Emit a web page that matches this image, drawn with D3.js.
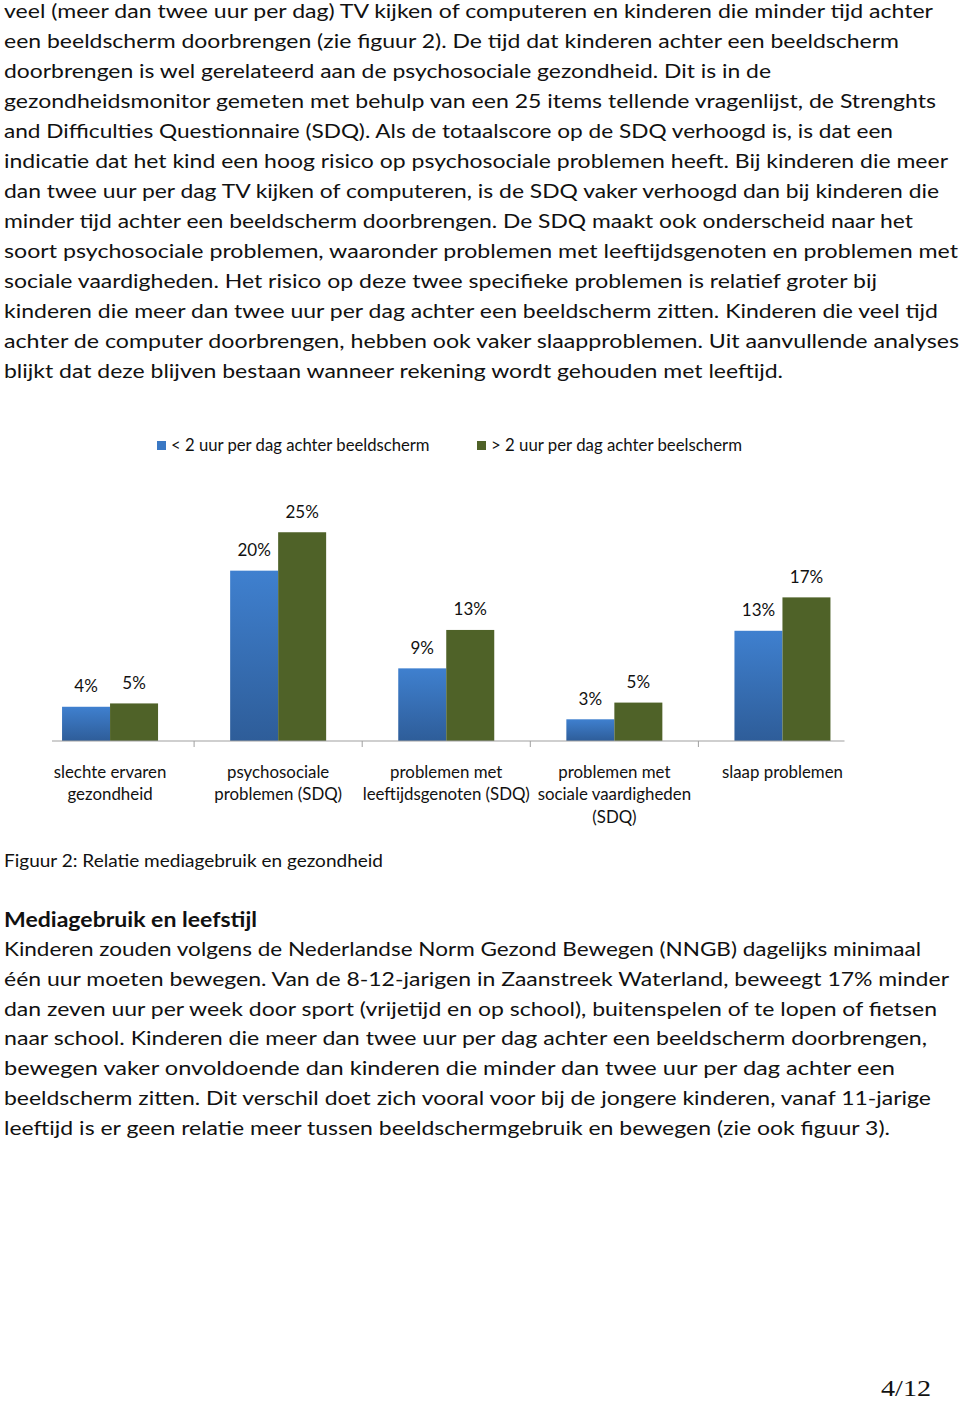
<!DOCTYPE html>
<html>
<head>
<meta charset="utf-8">
<script src="https://cdn.jsdelivr.net/npm/d3@7"></script>
<style>
  html, body { margin: 0; padding: 0; background: #fff; }
  svg { display: block; }
</style>
</head>
<body>
<div id="page"></div>
<script>
// ---------- DATA ----------
const categories = [
  ["slechte ervaren", "gezondheid"],
  ["psychosociale", "problemen (SDQ)"],
  ["problemen met", "leeftijdsgenoten (SDQ)"],
  ["problemen met", "sociale vaardigheden", "(SDQ)"],
  ["slaap problemen"]
];
const seriesNames = ["< 2 uur per dag achter beeldscherm", "> 2 uur per dag achter beelscherm"];
const lessThan2 = [4.1, 20.4, 8.7, 2.6, 13.2];
const moreThan2 = [4.5, 25.0, 13.3, 4.6, 17.2];
const lessLabels = ["4%", "20%", "9%", "3%", "13%"];
const moreLabels = ["5%", "25%", "13%", "5%", "17%"];
const seriesColors = ["#3a78c4", "#4f6228"];

const paragraph1 = [
  "veel (meer dan twee uur per dag) TV kijken of computeren en kinderen die minder tijd achter",
  "een beeldscherm doorbrengen (zie figuur 2). De tijd dat kinderen achter een beeldscherm",
  "doorbrengen is wel gerelateerd aan de psychosociale gezondheid. Dit is in de",
  "gezondheidsmonitor gemeten met behulp van een 25 items tellende vragenlijst, de Strenghts",
  "and Difficulties Questionnaire (SDQ). Als de totaalscore op de SDQ verhoogd is, is dat een",
  "indicatie dat het kind een hoog risico op psychosociale problemen heeft. Bij kinderen die meer",
  "dan twee uur per dag TV kijken of computeren, is de SDQ vaker verhoogd dan bij kinderen die",
  "minder tijd achter een beeldscherm doorbrengen. De SDQ maakt ook onderscheid naar het",
  "soort psychosociale problemen, waaronder problemen met leeftijdsgenoten en problemen met",
  "sociale vaardigheden. Het risico op deze twee specifieke problemen is relatief groter bij",
  "kinderen die meer dan twee uur per dag achter een beeldscherm zitten. Kinderen die veel tijd",
  "achter de computer doorbrengen, hebben ook vaker slaapproblemen. Uit aanvullende analyses",
  "blijkt dat deze blijven bestaan wanneer rekening wordt gehouden met leeftijd."
];
const caption = "Figuur 2: Relatie mediagebruik en gezondheid";
const heading = "Mediagebruik en leefstijl";
const paragraph2 = [
  "Kinderen zouden volgens de Nederlandse Norm Gezond Bewegen (NNGB) dagelijks minimaal",
  "één uur moeten bewegen. Van de 8-12-jarigen in Zaanstreek Waterland, beweegt 17% minder",
  "dan zeven uur per week door sport (vrijetijd en op school), buitenspelen of te lopen of fietsen",
  "naar school. Kinderen die meer dan twee uur per dag achter een beeldscherm doorbrengen,",
  "bewegen vaker onvoldoende dan kinderen die minder dan twee uur per dag achter een",
  "beeldscherm zitten. Dit verschil doet zich vooral voor bij de jongere kinderen, vanaf 11-jarige",
  "leeftijd is er geen relatie meer tussen beeldschermgebruik en bewegen (zie ook figuur 3)."
];
const pageNumber = "4/12";

// ---------- LAYOUT ----------
const W = 960, H = 1405;
const textX = 4;
const p1Ends = [933, 899, 771, 936, 893, 948, 939, 913, 958, 877, 938, 959, 783];
const p2Ends = [921, 949, 937, 927, 895, 931, 890];

const svg = d3.select("#page").append("svg")
  .attr("width", W).attr("height", H)
  .attr("viewBox", `0 0 ${W} ${H}`);
svg.append("rect").attr("width", W).attr("height", H).attr("fill", "#fff");

const bodyFont = "Lato, 'Open Sans', sans-serif";

function drawLines(lines, ends, y0, dy) {
  svg.append("g").selectAll("text").data(lines).join("text")
    .attr("x", textX)
    .attr("y", (d, i) => y0 + i * dy)
    .attr("font-family", bodyFont)
    .attr("font-size", 19.5)
    .attr("fill", "#111")
    .attr("textLength", (d, i) => ends[i] - textX)
    .attr("lengthAdjust", "spacingAndGlyphs")
    .text(d => d);
}
drawLines(paragraph1, p1Ends, 18, 30);

svg.append("text")
  .attr("x", textX).attr("y", 867)
  .attr("font-family", bodyFont).attr("font-size", 16.5).attr("fill", "#111")
  .attr("textLength", 379).attr("lengthAdjust", "spacingAndGlyphs")
  .text(caption);

svg.append("text")
  .attr("x", textX).attr("y", 927)
  .attr("font-family", bodyFont).attr("font-size", 20).attr("font-weight", "bold").attr("fill", "#111")
  .attr("textLength", 253).attr("lengthAdjust", "spacingAndGlyphs")
  .text(heading);

drawLines(paragraph2, p2Ends, 956, 29.8);

svg.append("text")
  .attr("x", 881).attr("y", 1396)
  .attr("font-family", "'Liberation Serif', 'DejaVu Serif', serif")
  .attr("font-size", 23).attr("fill", "#111")
  .attr("textLength", 50).attr("lengthAdjust", "spacingAndGlyphs")
  .text(pageNumber);

// ---------- CHART ----------
const chartFont = "Lato, 'Open Sans', sans-serif";
const baseY = 741;
const x = d3.scaleBand().domain(d3.range(categories.length)).range([26, 866.5]).paddingInner(0).paddingOuter(0);
const xs = d3.scaleBand().domain([0, 1]).range([-48, 48]);
const y = d3.scaleLinear().domain([0, 30]).range([baseY, baseY - 30 * 8.35]);

const defs = svg.append("defs");
const gBlue = defs.append("linearGradient").attr("id", "gBlue").attr("x1", 0).attr("y1", 0).attr("x2", 0).attr("y2", 1);
gBlue.append("stop").attr("offset", "0%").attr("stop-color", "#3f80cf");
gBlue.append("stop").attr("offset", "100%").attr("stop-color", "#2e5d99");

const chart = svg.append("g");
const seriesData = [lessThan2, moreThan2];
const seriesLabels = [lessLabels, moreLabels];
const fills = ["url(#gBlue)", seriesColors[1]];

seriesData.forEach((vals, s) => {
  chart.append("g").selectAll("rect").data(vals).join("rect")
    .attr("x", (d, i) => x(i) + x.bandwidth() / 2 + xs(s))
    .attr("y", d => y(d))
    .attr("width", xs.bandwidth())
    .attr("height", d => y(0) - y(d))
    .attr("fill", fills[s]);
  chart.append("g").selectAll("text").data(vals).join("text")
    .attr("x", (d, i) => x(i) + x.bandwidth() / 2 + xs(s) + xs.bandwidth() / 2)
    .attr("y", d => y(d) - 14.5)
    .attr("text-anchor", "middle")
    .attr("font-family", chartFont)
    .attr("font-size", 17)
    .attr("fill", "#111")
    .text((d, i) => seriesLabels[s][i]);
});

// axis line and ticks
const axisG = chart.append("g").attr("transform", `translate(0,${baseY})`);
axisG.append("line")
  .attr("x1", x.range()[0] + 26).attr("x2", x.range()[1] - 22)
  .attr("stroke", "#a0a0a0").attr("stroke-width", 1.2);
axisG.selectAll("line.tick").data(d3.range(1, categories.length)).join("line")
  .attr("class", "tick")
  .attr("x1", i => x(i)).attr("x2", i => x(i))
  .attr("y1", 0).attr("y2", 6)
  .attr("stroke", "#a0a0a0").attr("stroke-width", 1);

// category labels
const catG = chart.append("g");
const catTexts = catG.selectAll("text").data(categories).join("text")
  .attr("text-anchor", "middle")
  .attr("font-family", chartFont)
  .attr("font-size", 17)
  .attr("fill", "#111");
catTexts.each(function(lines, i) {
  d3.select(this).selectAll("tspan").data(lines).join("tspan")
    .attr("x", x(i) + x.bandwidth() / 2)
    .attr("y", (d, j) => 777.5 + j * 22.5)
    .text(d => d);
});
// condense chart text (original chart font is narrower)
const catRef = catG.append("text").attr("font-family", chartFont).attr("font-size", 17).text(categories[0][0]);
const catFactor = 112.7 / catRef.node().getComputedTextLength();
catRef.remove();
catG.selectAll("tspan").each(function() {
  const w = this.getComputedTextLength();
  d3.select(this).attr("textLength", w * catFactor).attr("lengthAdjust", "spacingAndGlyphs");
});

// legend
const legendX = [157, 477];
const legendW = [258.6, 251];
const legend = chart.append("g");
seriesNames.forEach((name, s) => {
  legend.append("rect")
    .attr("x", legendX[s]).attr("y", 441).attr("width", 9).attr("height", 9)
    .attr("fill", seriesColors[s]);
  legend.append("text")
    .attr("x", legendX[s] + 14).attr("y", 451)
    .attr("font-family", chartFont).attr("font-size", 17.5).attr("fill", "#111")
    .attr("textLength", legendW[s]).attr("lengthAdjust", "spacingAndGlyphs")
    .text(name);
});
</script>
</body>
</html>
